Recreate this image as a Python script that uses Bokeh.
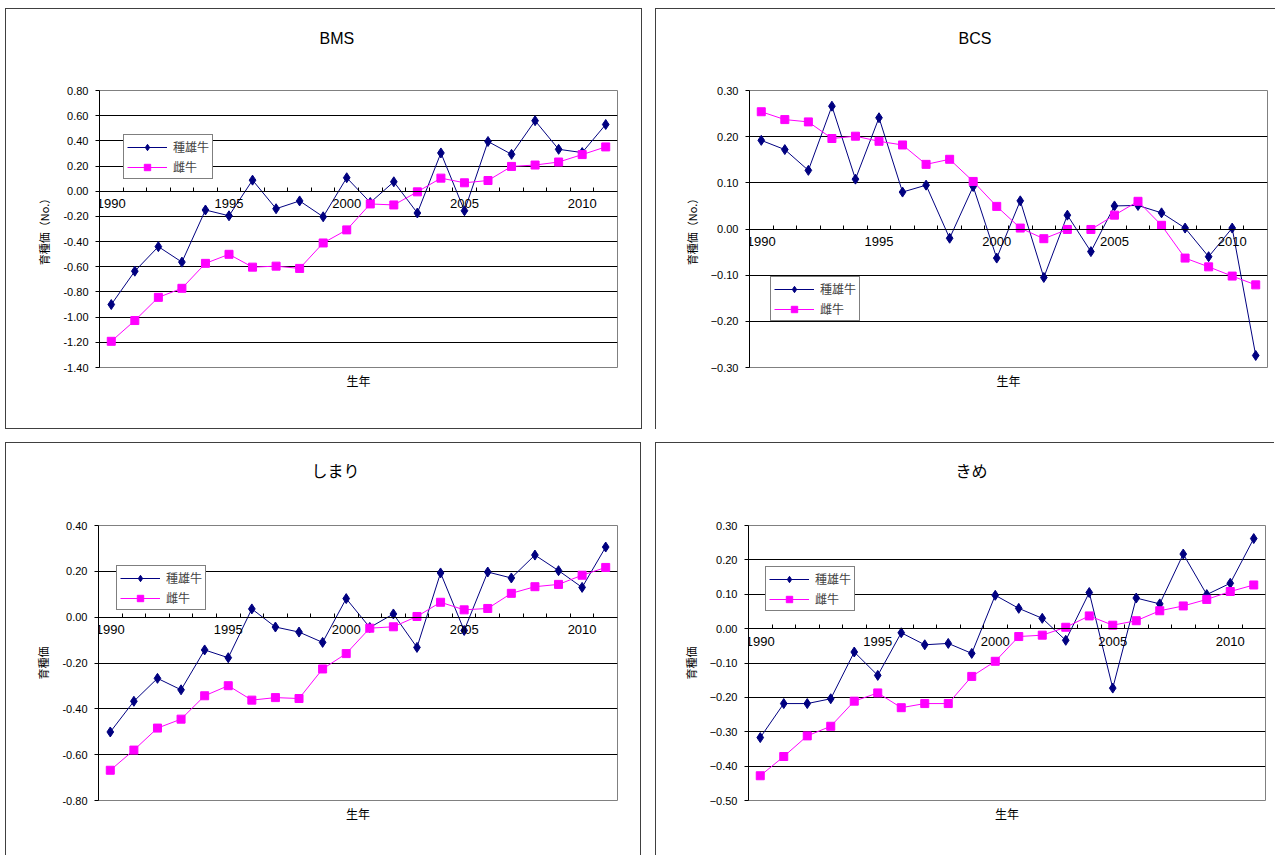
from bokeh.plotting import figure
from bokeh.models import (Range1d, FixedTicker, Legend, LegendItem, CustomJSTickFormatter,
                          LinearAxis, Title)
from bokeh.layouts import row, column
from bokeh.embed import file_html
from bokeh.resources import INLINE

years = list(range(1990, 2012))
year_labels = [1990, 1995, 2000, 2005, 2010]
series_names = ["種雄牛", "雌牛"]

bms_bull = [-0.90, -0.635, -0.44, -0.563, -0.149, -0.195, 0.088, -0.139, -0.077, -0.203, 0.107,
            -0.09, 0.075, -0.173, 0.304, -0.155, 0.395, 0.293, 0.56, 0.333, 0.307, 0.53]
bms_cow = [-1.192, -1.027, -0.843, -0.771, -0.573, -0.501, -0.603, -0.595, -0.613, -0.411, -0.307,
           -0.101, -0.109, -0.005, 0.104, 0.067, 0.085, 0.197, 0.208, 0.232, 0.291, 0.352]

bcs_bull = [0.192, 0.172, 0.127, 0.266, 0.108, 0.241, 0.080, 0.095, -0.020, 0.092, -0.063,
            0.061, -0.105, 0.030, -0.049, 0.050, 0.051, 0.035, 0.002, -0.060, 0.002, -0.274]
bcs_cow = [0.254, 0.237, 0.232, 0.196, 0.201, 0.190, 0.182, 0.140, 0.151, 0.103, 0.049,
           0.002, -0.021, -0.001, -0.001, 0.030, 0.060, 0.008, -0.063, -0.082, -0.102, -0.121]

shimari_bull = [-0.501, -0.367, -0.267, -0.317, -0.143, -0.177, 0.036, -0.043, -0.065, -0.110, 0.081,
                -0.045, 0.014, -0.132, 0.193, -0.058, 0.197, 0.171, 0.271, 0.203, 0.130, 0.306]
shimari_cow = [-0.668, -0.580, -0.484, -0.445, -0.343, -0.299, -0.362, -0.351, -0.355, -0.226, -0.159,
               -0.048, -0.042, 0.003, 0.065, 0.032, 0.038, 0.104, 0.133, 0.143, 0.183, 0.217]

kime_bull = [-0.317, -0.218, -0.218, -0.204, -0.068, -0.136, -0.012, -0.047, -0.043, -0.072, 0.097,
             0.059, 0.030, -0.034, 0.105, -0.173, 0.089, 0.072, 0.217, 0.099, 0.132, 0.262]
kime_cow = [-0.428, -0.372, -0.312, -0.284, -0.211, -0.187, -0.230, -0.218, -0.218, -0.139, -0.095,
            -0.023, -0.019, 0.004, 0.037, 0.010, 0.023, 0.052, 0.066, 0.085, 0.108, 0.127]

bms_yticks = [-1.4, -1.2, -1.0, -0.8, -0.6, -0.4, -0.2, 0.0, 0.2, 0.4, 0.6, 0.8]
bcs_yticks = [-0.3, -0.2, -0.1, 0.0, 0.1, 0.2, 0.3]
shimari_yticks = [-0.8, -0.6, -0.4, -0.2, 0.0, 0.2, 0.4]
kime_yticks = [-0.5, -0.4, -0.3, -0.2, -0.1, 0.0, 0.1, 0.2, 0.3]

NAVY = "#000080"
PINK = "#FF00FF"
JP = "Noto Sans CJK JP"
NUM = "Liberation Sans"
BORDER = "1px solid #404040"


def make_panel(title, title_font, title_offset, bull, cow, yticks, ylabel, unicode_minus,
               width, height, borders, legend_loc, css):
    lb, rb, tb, bb = borders
    p = figure(width=width, height=height, output_backend="svg", toolbar_location=None,
               x_range=Range1d(years[0] - 0.5, years[-1] + 0.5),
               y_range=Range1d(yticks[0], yticks[-1]),
               min_border_left=lb, min_border_right=rb, min_border_top=tb, min_border_bottom=bb,
               background_fill_color="white", border_fill_color="white")
    p.styles = css
    p.outline_line_color = "#808080"
    p.xgrid.grid_line_color = None
    p.ygrid.grid_line_color = "black"
    p.ygrid.grid_line_width = 1

    xa = p.below[0]
    xa.fixed_location = 0
    xa.ticker = FixedTicker(ticks=year_labels, minor_ticks=[y + 0.5 for y in years[:-1]])
    xa.major_tick_line_color = None
    xa.major_tick_in = 0
    xa.major_tick_out = 0
    xa.minor_tick_in = 4
    xa.minor_tick_out = 0
    xa.minor_tick_line_color = "black"
    xa.axis_line_color = "black"
    xa.major_label_standoff = 8
    xa.major_label_text_font = NUM
    xa.major_label_text_font_size = "13px"
    xa.major_label_text_color = "black"

    ya = p.left[0]
    ya.ticker = FixedTicker(ticks=yticks)
    if unicode_minus:
        ya.formatter = CustomJSTickFormatter(code="return tick.toFixed(2).replace('-', '\u2212');")
    else:
        ya.formatter = CustomJSTickFormatter(code="return tick.toFixed(2);")
    ya.minor_tick_line_color = None
    ya.major_tick_in = 0
    ya.major_tick_out = 4
    ya.major_tick_line_color = "black"
    ya.axis_line_color = "black"
    ya.major_label_standoff = 7
    ya.major_label_text_font = NUM
    ya.major_label_text_font_size = "11px"
    ya.major_label_text_color = "black"
    ya.axis_label = ylabel
    ya.axis_label_text_font = JP
    ya.axis_label_text_font_size = "11px"
    ya.axis_label_text_font_style = "normal"
    ya.axis_label_text_color = "black"
    ya.axis_label_standoff = 8

    xlab = LinearAxis(ticker=FixedTicker(ticks=[]), axis_line_color=None,
                      major_tick_line_color=None, minor_tick_line_color=None,
                      axis_label="生年", axis_label_standoff=4,
                      axis_label_text_font=JP, axis_label_text_font_size="12px",
                      axis_label_text_font_style="normal", axis_label_text_color="black")
    p.add_layout(xlab, "below")

    # empty spacer between the frame and the title
    spacer = LinearAxis(ticker=FixedTicker(ticks=[]), axis_line_color=None,
                        major_tick_line_color=None, minor_tick_line_color=None,
                        axis_label=" ", axis_label_standoff=30,
                        axis_label_text_font_size="10px")
    p.add_layout(spacer, "above")

    p.title = Title(text=title, align="left", offset=title_offset, standoff=0,
                    text_font=title_font, text_font_size="16px", text_font_style="normal",
                    text_color="black")

    l1 = p.line(years, bull, line_color=NAVY, line_width=1)
    m1 = p.scatter(years, bull, marker="diamond", size=10, fill_color=NAVY, line_color=NAVY)
    l2 = p.line(years, cow, line_color=PINK, line_width=1)
    m2 = p.scatter(years, cow, marker="square", size=8, fill_color=PINK, line_color=PINK)

    legend = Legend(items=[LegendItem(label=series_names[0], renderers=[l1, m1]),
                           LegendItem(label=series_names[1], renderers=[l2, m2])],
                    location=legend_loc, orientation="vertical",
                    border_line_color="black", border_line_width=1.5,
                    background_fill_color="white", background_fill_alpha=1,
                    label_text_font=JP, label_text_font_size="12px",
                    glyph_width=40, glyph_height=16, label_standoff=6,
                    padding=3, spacing=3, margin=0)
    p.add_layout(legend, "center")
    return p


css_tl = {"border": BORDER}
css_tr = {"border-top": BORDER, "border-left": BORDER}
css_bl = {"border-top": BORDER, "border-left": BORDER, "border-right": BORDER}
css_br = {"border-top": BORDER, "border-left": BORDER}

p1 = make_panel("BMS", NUM, 220, bms_bull, bms_cow, bms_yticks, "育種価（No.）", False,
                637, 421, (93, 26, 81, 63), (24, 188), css_tl)
p2 = make_panel("BCS", NUM, 209, bcs_bull, bcs_cow, bcs_yticks, "育種価（No.）", True,
                620, 421, (93, 9, 81, 63), (21, 46), css_tr)
p3 = make_panel("しまり", JP, 213, shimari_bull, shimari_cow, shimari_yticks, "育種価", False,
                636, 413, (92, 25, 82, 56), (18, 190), css_bl)
p4 = make_panel("きめ", JP, 207, kime_bull, kime_cow, kime_yticks, "育種価", True,
                619, 413, (92, 10, 82, 56), (17, 189), css_br)

layout = column(row(p1, p2, spacing=13), row(p3, p4, spacing=14), spacing=13,
                margin=(8, 0, 0, 5))

open("out.html", "w").write(file_html(layout, INLINE))
